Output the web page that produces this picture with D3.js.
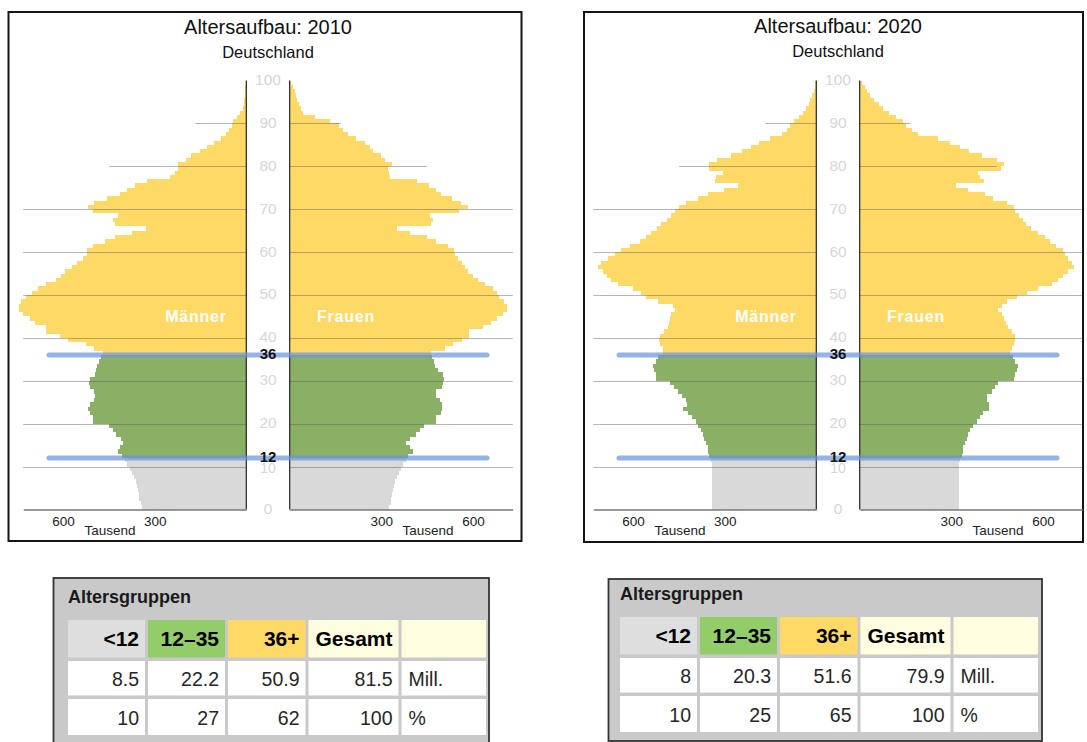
<!DOCTYPE html>
<html>
<head>
<meta charset="utf-8">
<script src="https://cdn.jsdelivr.net/npm/d3@7"></script>
<style>
  body { margin: 0; background: #fff; }
  svg { font-family: Arial, "Liberation Sans", sans-serif; }
</style>
</head>
<body>
<svg id="chart" width="1087" height="742"></svg>
<script>
// population per single year of age (0..99), thousands
var men2010 = [342, 346, 352, 352, 355, 357, 362, 368, 374, 382,
  390, 396, 407, 420, 415, 404, 409, 426, 436, 451,
  501, 502, 513, 518, 512, 499, 494, 499, 513, 515,
  513, 494, 491, 488, 483, 475, 468, 500, 526, 584,
  611, 657, 657, 693, 709, 731, 745, 745, 737, 720,
  700, 682, 655, 624, 608, 593, 570, 554, 535, 520,
  520, 502, 462, 431, 374, 327, 429, 436, 420, 502,
  518, 498, 456, 415, 390, 363, 324, 251, 235, 223,
  223, 196, 182, 151, 128, 107, 82, 68, 58, 48,
  42, 30, 20, 12, 8, 6, 5, 4, 3, 2];
var women2010 = [324, 331, 333, 336, 338, 342, 346, 351, 357, 363,
  371, 380, 387, 402, 393, 382, 393, 415, 425, 440,
  480, 480, 494, 497, 497, 491, 480, 480, 499, 502,
  505, 502, 486, 477, 472, 466, 464, 508, 535, 564,
  587, 587, 633, 660, 679, 698, 711, 711, 701, 684,
  679, 665, 640, 617, 600, 584, 573, 564, 551, 540,
  538, 518, 478, 451, 393, 352, 462, 469, 458, 553,
  584, 562, 531, 494, 480, 455, 418, 327, 325, 322,
  335, 313, 298, 273, 262, 245, 218, 191, 175, 162,
  131, 82, 44, 36, 29, 25, 22, 16, 11, 5];
var men2020 = [340, 340, 340, 340, 340, 340, 340, 340, 340, 340,
  340, 344, 351, 355, 355, 360, 366, 371, 376, 387,
  395, 406, 420, 436, 423, 426, 439, 453, 467, 478,
  524, 526, 532, 535, 526, 518, 502, 502, 511, 515,
  513, 497, 486, 483, 480, 475, 464, 469, 518, 557,
  573, 600, 649, 673, 685, 698, 715, 704, 682, 660,
  638, 611, 578, 559, 540, 522, 508, 490, 476, 462,
  451, 428, 388, 355, 302, 256, 333, 327, 307, 351,
  351, 324, 278, 242, 213, 188, 151, 111, 95, 85,
  73, 57, 44, 33, 24, 19, 13, 9, 5, 3];
var women2020 = [326, 326, 326, 326, 326, 326, 326, 326, 326, 326,
  326, 328, 334, 337, 337, 345, 350, 356, 361, 372,
  383, 394, 405, 424, 424, 416, 418, 432, 443, 454,
  505, 508, 514, 519, 508, 503, 492, 498, 505, 509,
  509, 498, 487, 479, 472, 465, 454, 465, 481, 514,
  547, 584, 628, 650, 667, 683, 700, 694, 683, 672,
  667, 644, 623, 606, 585, 560, 546, 533, 522, 510,
  505, 481, 437, 410, 356, 315, 408, 393, 388, 461,
  472, 448, 401, 359, 329, 296, 257, 190, 170, 152,
  141, 119, 97, 77, 63, 47, 34, 25, 17, 8];

var ageTicks = [0, 10, 20, 30, 40, 50, 60, 70, 80, 90, 100];
var groupBounds = [12, 36];
var xTicks = [300, 600];

var tableHeader = ["<12", "12\u201335", "36+", "Gesamt", ""];
var mill2010 = ["8.5", "22.2", "50.9", "81.5", "Mill."];
var pct2010 = ["10", "27", "62", "100", "%"];
var mill2020 = ["8", "20.3", "51.6", "79.9", "Mill."];
var pct2020 = ["10", "25", "65", "100", "%"];

var yellow = "#ffd966", green = "#89b064", grey = "#d9d9d9";

var svg = d3.select("#chart");

var y = d3.scaleLinear().domain([0, 100]).range([509.5, 80.5]);
var halfGap = 21.7;
var reach = 730;           // thousands at the outer end of the axis
var reachPx = 223;
// gridlines get shorter near the top
var gridReach = [730, 730, 730, 730, 730, 730, 730, 449, 167];

function ageColor(a) {
    if (a < groupBounds[0]) return grey;
    if (a < groupBounds[1]) return green;
    return yellow;
}

function drawPyramid(c) {
    var g = svg.append("g");
    var leftX = c.cx - halfGap, rightX = c.cx + halfGap;
    var xL = d3.scaleLinear().domain([0, reach]).range([leftX, leftX - reachPx]);
    var xR = d3.scaleLinear().domain([0, reach]).range([rightX, rightX + reachPx]);

    g.append("rect")
        .attr("x", c.frame[0]).attr("y", c.frame[1])
        .attr("width", c.frame[2]).attr("height", c.frame[3])
        .attr("fill", "#fff").attr("stroke", "#151515").attr("stroke-width", 2);

    // bars
    g.append("g").selectAll("rect")
        .data(c.men)
        .enter().append("rect")
        .attr("x", d => xL(d))
        .attr("y", (d, i) => y(i + 1))
        .attr("width", d => leftX - xL(d))
        .attr("height", (d, i) => y(i) - y(i + 1))
        .attr("fill", (d, i) => ageColor(i))
        .attr("shape-rendering", "crispEdges");

    g.append("g").selectAll("rect")
        .data(c.women)
        .enter().append("rect")
        .attr("x", rightX)
        .attr("y", (d, i) => y(i + 1))
        .attr("width", d => xR(d) - rightX)
        .attr("height", (d, i) => y(i) - y(i + 1))
        .attr("fill", (d, i) => ageColor(i))
        .attr("shape-rendering", "crispEdges");

    // gridlines
    var grid = g.append("g").attr("stroke", "#5a5a5a").attr("stroke-opacity", 0.45).attr("stroke-width", 1);
    ageTicks.slice(1, 10).forEach(function(a, i) {
        grid.append("line")
            .attr("x1", xL(gridReach[i])).attr("x2", leftX)
            .attr("y1", Math.round(y(a)) + 0.5).attr("y2", Math.round(y(a)) + 0.5);
        grid.append("line")
            .attr("x1", rightX).attr("x2", xR(gridReach[i]))
            .attr("y1", Math.round(y(a)) + 0.5).attr("y2", Math.round(y(a)) + 0.5);
    });

    // vertical axes
    [leftX, rightX].forEach(function(x) {
        g.append("line")
            .attr("x1", x).attr("x2", x)
            .attr("y1", y(0)).attr("y2", y(100))
            .attr("stroke", "#222").attr("stroke-width", 1.2);
    });

    // bottom axes
    [xL, xR].forEach(function(sc) {
        var ax = g.append("g")
            .attr("transform", `translate(0, ${y(0)})`)
            .call(d3.axisBottom(sc).tickValues(xTicks).tickSize(0).tickPadding(7));
        ax.select(".domain").attr("stroke", "#777").attr("stroke-width", 1.5);
        ax.selectAll("text").attr("font-size", "13.5px").attr("fill", "#222")
            .attr("font-family", "Arial, 'Liberation Sans', sans-serif");
    });

    g.append("text").attr("x", c.cx - 158).attr("y", 535)
        .attr("text-anchor", "middle").attr("font-size", "13.5px").attr("fill", "#222")
        .text("Tausend");
    g.append("text").attr("x", c.cx + 160).attr("y", 535)
        .attr("text-anchor", "middle").attr("font-size", "13.5px").attr("fill", "#222")
        .text("Tausend");

    // age labels (the 10 sits a little lower so the bold 12 does not cover it)
    g.append("g").selectAll("text")
        .data(ageTicks)
        .enter().append("text")
        .attr("x", c.cx)
        .attr("y", d => d === 10 ? y(d) + 1.5 : y(d) - 1)
        .attr("dy", "0.35em")
        .attr("text-anchor", "middle")
        .attr("font-size", d => d === 10 ? "14px" : "15.5px")
        .attr("fill", "#d6d6d6")
        .text(d => d);

    // group boundary lines
    g.append("g").selectAll("line")
        .data(groupBounds)
        .enter().append("line")
        .attr("x1", c.cx - 219).attr("x2", c.cx + 219)
        .attr("y1", d => y(d)).attr("y2", d => y(d))
        .attr("stroke", "#6a93de").attr("stroke-opacity", 0.7)
        .attr("stroke-width", 5).attr("stroke-linecap", "round");

    g.append("g").selectAll("text")
        .data(groupBounds)
        .enter().append("text")
        .attr("x", c.cx)
        .attr("y", d => y(d) - 1.5)
        .attr("dy", "0.36em")
        .attr("text-anchor", "middle")
        .attr("font-size", "15px")
        .attr("font-weight", "bold")
        .attr("fill", "#111")
        .text(d => d);

    g.append("text").attr("x", c.cx - 72).attr("y", 321.5)
        .attr("text-anchor", "middle").attr("font-size", "16px").attr("font-weight", "bold")
        .attr("letter-spacing", "0.8px").attr("fill", "#fff").text("Männer");
    g.append("text").attr("x", c.cx + 78).attr("y", 321.5)
        .attr("text-anchor", "middle").attr("font-size", "16px").attr("font-weight", "bold")
        .attr("letter-spacing", "0.8px").attr("fill", "#fff").text("Frauen");

    // titles
    g.append("text").attr("x", c.cx).attr("y", c.titleY)
        .attr("text-anchor", "middle").attr("font-size", "20px").attr("fill", "#111")
        .text("Altersaufbau: " + c.year);
    g.append("text").attr("x", c.cx).attr("y", c.titleY + 24)
        .attr("text-anchor", "middle").attr("font-size", "16.5px").attr("fill", "#111")
        .text("Deutschland");
}

var colW = [77, 77, 77.5, 90, 84.5];
var rowH = [37.5, 34.5, 36];
var headerFill = ["#dedede", "#92cd6a", "#ffd966", "#fffde0", "#fffde0"];

function drawTable(t) {
    var g = svg.append("g");
    g.append("rect")
        .attr("x", t.box[0]).attr("y", t.box[1])
        .attr("width", t.box[2]).attr("height", t.box[3])
        .attr("fill", "#c9c9c9").attr("stroke", "#333").attr("stroke-width", 1.8);

    g.append("text").attr("x", t.x0).attr("y", t.y0 - 17)
        .attr("font-size", "18px").attr("font-weight", "bold").attr("fill", "#1a1a1a")
        .text("Altersgruppen");

    var rows = [tableHeader, t.mill, t.pct];
    var colX = [];
    var acc = t.x0;
    colW.forEach(function(w) { colX.push(acc); acc += w + 3; });
    var rowY = [];
    acc = t.y0;
    rowH.forEach(function(h) { rowY.push(acc); acc += h + 3.5; });

    rows.forEach(function(row, r) {
        var rg = g.append("g");
        rg.selectAll("rect")
            .data(row)
            .enter().append("rect")
            .attr("x", (d, i) => colX[i])
            .attr("y", rowY[r])
            .attr("width", (d, i) => colW[i])
            .attr("height", rowH[r])
            .attr("fill", (d, i) => r === 0 ? headerFill[i] : "#fff");
        rg.selectAll("text")
            .data(row)
            .enter().append("text")
            .attr("x", (d, i) => i === 4 ? colX[i] + 7 : colX[i] + colW[i] - 6)
            .attr("y", rowY[r] + rowH[r] / 2 + 7.5)
            .attr("text-anchor", (d, i) => i === 4 ? "start" : "end")
            .attr("font-size", r === 0 ? "21px" : "19.5px")
            .attr("font-weight", r === 0 ? "bold" : "normal")
            .attr("fill", r === 0 ? "#000" : "#262626")
            .text(d => d);
    });
}

drawPyramid({year: "2010", men: men2010, women: women2010, cx: 268, titleY: 34, frame: [8.5, 12, 513, 529]});
drawPyramid({year: "2020", men: men2020, women: women2020, cx: 838, titleY: 33, frame: [584, 12, 499, 530]});

drawTable({box: [53.5, 578, 435.5, 180], x0: 68, y0: 620, mill: mill2010, pct: pct2010});
drawTable({box: [608.5, 579, 433.5, 162], x0: 620, y0: 617, mill: mill2020, pct: pct2020});
</script>
</body>
</html>
